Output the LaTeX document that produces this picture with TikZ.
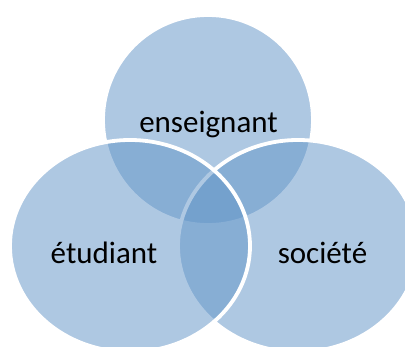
\documentclass[tikz,border=0pt]{standalone}
\usepackage{fontspec}
\setmainfont{Carlito}
\usetikzlibrary{shapes.geometric}
\definecolor{vennblue}{RGB}{98,149,200}
\tikzset{
  venn/.style={ellipse, fill=vennblue, fill opacity=0.51, draw=white, draw opacity=1, line width=3.8pt, inner sep=0pt, outer sep=0pt},
  lbl/.style={anchor=base, text=black, font=\fontsize{31}{36}\selectfont, inner sep=0pt}
}
\begin{document}
\begin{tikzpicture}[x=1pt,y=-1pt]
\path[use as bounding box, clip] (0,0) rectangle (405,347);
\fill[white] (0,0) rectangle (405,347);
\node[venn, minimum width=210pt, minimum height=210pt] (ens) at (208,120) {};
\node[venn, minimum width=240pt, minimum height=212pt] (soc) at (298,246) {};
\node[venn, minimum width=240pt, minimum height=212pt] (etu) at (130,246) {};
\node[lbl] (tens) at (208.5,133) {enseignant};
\node[lbl] (tetu) at (104,264) {étudiant};
\node[lbl] (tsoc) at (322.5,264) {société};
\end{tikzpicture}
\end{document}
